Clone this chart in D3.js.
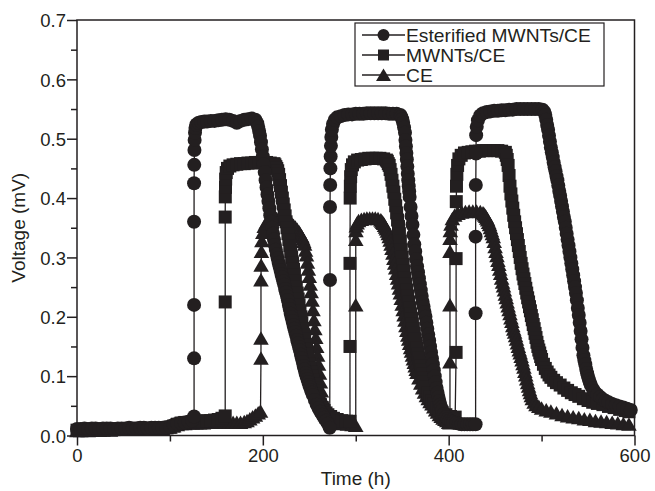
<!DOCTYPE html>
<html>
<head>
<meta charset="utf-8">
<script src="https://cdn.jsdelivr.net/npm/d3@7"></script>
<style>
  body { margin: 0; background: #fff; }
  svg { display: block; font-family: "Liberation Sans", Arial, sans-serif; }
  .frame { fill: none; stroke: #231f20; stroke-width: 1.5; }
  .axis path { display: none; }
  .axis line { stroke: #231f20; stroke-width: 1.5; }
  .axis text { fill: #231f20; font-size: 18.5px; }
  .series-line { fill: none; stroke: #231f20; stroke-width: 1.3; }
  .marker { fill: #231f20; }
  .title { fill: #231f20; font-size: 19px; }
  .legend-box { fill: #fff; stroke: #231f20; stroke-width: 1.2; }
  .legend text { fill: #231f20; font-size: 17.5px; }
</style>
</head>
<body>
<div id="chart"></div>
<script>
// [time (h), voltage (mV)]
const esterified = [
  [0,0.011],[4,0.011],[8,0.012],[12,0.011],[16,0.012],[20,0.012],[24,0.011],[28,0.012],[32,0.012],[36,0.012],
  [40,0.011],[44,0.012],[48,0.012],[52,0.012],[56,0.013],[60,0.012],[64,0.012],[68,0.013],[72,0.013],[76,0.012],
  [80,0.013],[84,0.013],[88,0.013],[92,0.013],[96,0.014],[100,0.015],[104,0.018],[108,0.02],[112,0.021],[116,0.022],
  [120,0.023],[124,0.025],
  [126,0.032],[126,0.13],[126,0.22],[126,0.36],[126,0.425],[126.2,0.456],[126.4,0.481],[126.6,0.498],[127,0.51],[127.5,0.518],
  [128.5,0.524],[131,0.527],[134,0.528],[137,0.529],[140,0.529],[144,0.53],[148,0.53],[152,0.531],[156,0.532],[160,0.533],
  [164,0.532],[168,0.53],[172,0.527],[176,0.53],[180,0.532],[184,0.533],[188,0.534],[192,0.532],
  [194,0.526],[195,0.52],[196,0.513],[197,0.505],[198,0.494],[199,0.482],[200,0.47],[201,0.457],[202,0.444],[203,0.43],
  [204,0.418],[205,0.406],[206,0.395],[207,0.383],[208,0.371],[209,0.36],[210,0.35],[211,0.34],[212,0.33],[213,0.321],
  [214,0.313],[215,0.305],[216,0.298],[217,0.291],[218,0.285],[219,0.279],[220,0.272],[221,0.266],[222,0.26],[223,0.254],
  [224,0.247],[225,0.241],[226,0.235],[227,0.228],[228,0.22],[229,0.213],[230,0.205],[231,0.199],[232,0.193],[233,0.186],
  [234,0.18],[235,0.174],[236,0.168],[237,0.161],[238,0.155],[239,0.149],[240,0.143],[241,0.136],[242,0.13],[243,0.124],
  [244,0.117],[245,0.111],[246,0.105],[247,0.1],[248,0.095],[249,0.09],[250,0.085],[251,0.081],[252,0.076],[253,0.072],
  [254,0.068],[256,0.06],[258,0.052],[260,0.046],[262,0.04],[264,0.035],[266,0.03],[268,0.025],[270,0.02],[272,0.013],
  [272.3,0.262],[272.3,0.385],[272.5,0.422],[272.7,0.45],[273,0.47],[273.3,0.488],[273.7,0.503],[274.3,0.515],[275.5,0.525],[277.5,0.532],
  [280,0.536],[284,0.538],[288,0.54],[292,0.541],[296,0.541],[300,0.542],[304,0.542],[308,0.542],[312,0.543],[316,0.543],
  [320,0.543],[324,0.543],[328,0.543],[332,0.543],[336,0.542],[340,0.542],[344,0.542],[348,0.54],
  [349,0.537],[350,0.533],[351,0.527],[352,0.519],[353,0.51],[353.5,0.498],[354,0.487],[354.5,0.476],[355,0.465],[355.5,0.453],
  [356,0.441],[356.5,0.43],[357,0.42],[357.5,0.411],[358,0.402],[359,0.385],[360,0.37],[361,0.355],[362,0.338],[363,0.322],
  [364,0.31],[365,0.297],[366,0.285],[367,0.275],[368,0.265],[369,0.255],[370,0.245],[371,0.235],[372,0.225],[373,0.217],
  [374,0.208],[375,0.2],[376,0.19],[377,0.18],[378,0.17],[379,0.16],[380,0.15],[381,0.14],[382,0.13],[383,0.12],
  [384,0.11],[385,0.1],[386,0.09],[387,0.08],[388,0.072],[389,0.065],[390,0.058],[391,0.052],[392,0.047],[393,0.042],
  [395,0.036],[397,0.031],[399,0.028],[401,0.025],[403,0.023],[405,0.022],[408,0.021],[411,0.02],[414,0.019],[417,0.019],
  [420,0.019],[423,0.019],[426,0.019],[429,0.019],
  [429,0.206],[429,0.335],[429.2,0.422],[429.4,0.475],[429.6,0.506],[430.2,0.52],[431.5,0.531],[434,0.539],[437,0.543],
  [441,0.545],[445,0.546],[449,0.547],[453,0.547],[457,0.548],[461,0.548],[465,0.549],[469,0.549],[473,0.55],[477,0.55],
  [481,0.55],[485,0.55],[489,0.55],[493,0.55],[497,0.55],[501,0.549],
  [503,0.545],[504,0.54],[505,0.532],[506,0.523],[507,0.515],[508,0.505],[509,0.495],[510,0.485],[511,0.477],[512,0.469],
  [513,0.46],[514,0.452],[515,0.445],[516,0.437],[517,0.43],[518,0.421],[519,0.412],[520,0.404],[521,0.395],[522,0.386],
  [523,0.377],[524,0.368],[525,0.36],[526,0.35],[527,0.34],[528,0.33],[529,0.32],[530,0.31],[531,0.3],[532,0.29],
  [533,0.28],[534,0.27],[535,0.26],[536,0.25],[537,0.24],[538,0.228],[539,0.215],[540,0.203],[541,0.19],[542,0.176],
  [543,0.162],[544,0.148],[545,0.135],[546,0.127],[547,0.12],[548,0.112],[549,0.105],[550,0.099],[551,0.094],[552,0.089],
  [553,0.085],[555,0.079],[557,0.074],[560,0.069],[563,0.065],[566,0.061],[569,0.058],[572,0.056],[576,0.053],[580,0.051],
  [584,0.049],[588,0.047],[592,0.045],[596,0.043]
];

const mwnts = [
  [0,0.009],[4,0.009],[8,0.01],[12,0.01],[16,0.009],[20,0.01],[24,0.01],[28,0.01],[32,0.011],[36,0.01],
  [40,0.01],[44,0.011],[48,0.011],[52,0.011],[56,0.011],[60,0.011],[64,0.012],[68,0.012],[72,0.012],[76,0.012],
  [80,0.012],[84,0.012],[88,0.013],[92,0.013],[96,0.013],[100,0.014],[104,0.016],[108,0.019],[112,0.021],[116,0.022],
  [120,0.022],[124,0.023],[128,0.023],[132,0.024],[136,0.024],[140,0.025],[144,0.025],[148,0.026],[152,0.027],[156,0.029],
  [159.5,0.033],[159.5,0.225],[159.5,0.368],[159.6,0.402],[159.8,0.418],[160,0.432],[160.6,0.443],[162,0.45],[164.5,0.454],
  [168,0.456],[172,0.457],[176,0.458],[180,0.458],[184,0.459],[188,0.459],[192,0.46],[196,0.46],[200,0.46],[204,0.46],
  [208,0.459],[212,0.458],
  [213,0.456],[214,0.453],[215,0.45],[216,0.446],[217,0.44],[218,0.431],[219,0.421],[220,0.41],[221,0.4],[222,0.39],
  [223,0.38],[224,0.37],[225,0.36],[226,0.35],[227,0.34],[228,0.33],[229,0.32],[230,0.31],[231,0.3],[232,0.29],
  [233,0.28],[234,0.27],[235,0.26],[236,0.25],[237,0.24],[238,0.23],[239,0.22],[240,0.21],[241,0.2],[242,0.19],
  [243,0.18],[244,0.17],[245,0.162],[246,0.153],[247,0.145],[248,0.137],[249,0.128],[250,0.12],[251,0.113],[252,0.107],
  [253,0.1],[254,0.093],[255,0.087],[256,0.08],[257,0.075],[258,0.07],[259,0.065],[260,0.06],[262,0.052],[264,0.047],
  [266,0.042],[268,0.038],[270,0.035],[273,0.032],[276,0.029],[280,0.027],[285,0.025],[290,0.024],[293.8,0.024],
  [293.8,0.15],[293.8,0.29],[294,0.4],[294.2,0.42],[294.5,0.436],[295.2,0.448],[296.5,0.456],[298.5,0.461],
  [302,0.464],[306,0.465],[310,0.466],[314,0.467],[318,0.467],[322,0.467],[326,0.467],[330,0.466],[333,0.464],
  [334,0.462],[335,0.458],[336,0.455],[337,0.448],[338,0.44],[339,0.43],[340,0.42],[341,0.41],[342,0.398],[343,0.387],
  [344,0.375],[345,0.363],[346,0.352],[347,0.34],[348,0.327],[349,0.313],[350,0.3],[351,0.288],[352,0.277],[353,0.265],
  [354,0.255],[355,0.245],[356,0.235],[357,0.225],[358,0.215],[359,0.205],[360,0.197],[361,0.188],[362,0.18],[363,0.172],
  [364,0.163],[365,0.155],[366,0.147],[367,0.138],[368,0.13],[369,0.123],[370,0.117],[371,0.11],[372,0.103],[373,0.097],
  [374,0.09],[376,0.081],[378,0.072],[380,0.065],[382,0.058],[384,0.053],[387,0.047],[390,0.043],[393,0.039],[397,0.035],
  [402,0.032],[407,0.031],
  [408,0.14],[408,0.298],[408.2,0.394],[408.4,0.42],[408.8,0.44],[409.6,0.455],[411,0.466],[413.5,0.472],
  [417,0.476],[421,0.477],[425,0.478],[429,0.479],[433,0.479],[437,0.48],[441,0.48],[445,0.48],[449,0.48],[453,0.48],
  [457,0.479],[461,0.477],
  [462,0.472],[463,0.465],[464,0.455],[465,0.438],[466,0.42],[467,0.407],[468,0.395],[469,0.383],[470,0.371],[471,0.36],
  [472,0.35],[473,0.34],[474,0.33],[475,0.32],[476,0.31],[477,0.3],[478,0.29],[479,0.281],[480,0.272],[481,0.264],
  [482,0.256],[483,0.248],[484,0.24],[485,0.232],[486,0.225],[487,0.217],[488,0.21],[489,0.202],[490,0.195],[491,0.187],
  [492,0.18],[493,0.172],[494,0.165],[495,0.157],[496,0.15],[497,0.144],[498,0.139],[499,0.133],[500,0.128],[502,0.12],
  [504,0.113],[506,0.107],[508,0.102],[510,0.098],[513,0.093],[516,0.089],[520,0.085],[524,0.08],[528,0.076],[532,0.072],
  [536,0.069],[540,0.066],[545,0.062],[550,0.059],[555,0.056],[560,0.054],[566,0.052],[572,0.049],[578,0.047],[584,0.044],
  [590,0.042],[594,0.04]
];

const ce = [
  [0,0.008],[4,0.008],[8,0.009],[12,0.008],[16,0.009],[20,0.009],[24,0.009],[28,0.009],[32,0.01],[36,0.009],
  [40,0.01],[44,0.01],[48,0.01],[52,0.01],[56,0.01],[60,0.011],[64,0.011],[68,0.011],[72,0.011],[76,0.011],
  [80,0.012],[84,0.012],[88,0.012],[92,0.012],[96,0.013],[100,0.014],[104,0.016],[108,0.018],[112,0.02],[116,0.02],
  [120,0.021],[124,0.021],[128,0.021],[132,0.021],[136,0.021],[140,0.022],[144,0.022],[148,0.022],[152,0.022],[156,0.022],
  [160,0.022],[164,0.022],[168,0.022],[172,0.022],[176,0.022],[180,0.023],[183,0.025],[186,0.028],[189,0.031],[192,0.034],
  [195,0.038],[197.5,0.041],
  [198,0.13],[198,0.164],[198,0.262],[198.2,0.287],[198.5,0.31],[199,0.328],[200,0.342],[201.5,0.352],
  [203.5,0.358],[206,0.361],[209,0.363],[212,0.364],[215,0.365],[218,0.365],[221,0.364],[224,0.364],[227,0.362],
  [229,0.36],[231,0.357],[233,0.354],[235,0.351],[237,0.347],[239,0.343],[240,0.34],[241,0.337],[242,0.335],[243,0.331],
  [244,0.327],[245,0.322],[246,0.312],[247,0.304],[248,0.292],[249,0.28],[250,0.268],[251,0.255],[252,0.242],[253,0.228],
  [254,0.212],[255,0.195],[256,0.18],[257,0.165],[258,0.15],[259,0.135],[260,0.12],[261,0.105],[262,0.09],[263,0.075],
  [264,0.062],[265,0.05],[266,0.042],[267.5,0.035],[269,0.031],[271,0.028],[274,0.026],[277,0.024],[281,0.022],[286,0.02],
  [291,0.019],[296,0.018],[300,0.017],
  [300,0.22],[300,0.33],[300.2,0.345],[300.6,0.353],[301.5,0.358],[303,0.362],
  [306,0.364],[309,0.365],[312,0.366],[315,0.366],[318,0.366],[321,0.366],[324,0.365],[327,0.363],
  [328,0.361],[329,0.359],[330,0.357],[331,0.354],[332,0.351],[333,0.348],[334,0.344],[335,0.34],[336,0.335],[337,0.329],
  [338,0.322],[339,0.315],[340,0.307],[341,0.298],[342,0.29],[343,0.282],[344,0.273],[345,0.265],[346,0.257],[347,0.248],
  [348,0.24],[349,0.231],[350,0.221],[351,0.212],[352,0.203],[353,0.194],[354,0.185],[355,0.177],[356,0.169],[357,0.162],
  [358,0.155],[359,0.148],[360,0.142],[361,0.135],[362,0.129],[363,0.123],[364,0.117],[365,0.111],[366,0.106],[368,0.097],
  [370,0.088],[372,0.08],[374,0.073],[376,0.067],[378,0.062],[380,0.057],[382,0.053],[384,0.048],[386,0.043],[388,0.039],
  [390,0.035],[392,0.032],[394,0.029],[396,0.027],[398,0.025],[400,0.022],[401.4,0.021],
  [401.4,0.124],[401.4,0.22],[401.4,0.31],[401.5,0.332],[401.8,0.345],[402.5,0.356],[404,0.365],[406.5,0.371],
  [410,0.374],[414,0.376],[418,0.377],[422,0.378],[426,0.378],[430,0.378],[434,0.377],[437,0.375],
  [438,0.373],[439,0.371],[440,0.369],[441,0.366],[442,0.363],[443,0.359],[444,0.355],[445,0.35],[446,0.345],[447,0.34],
  [448,0.335],[449,0.327],[450,0.318],[451,0.31],[452,0.303],[453,0.295],[454,0.288],[455,0.28],[456,0.273],[457,0.265],
  [458,0.258],[459,0.252],[460,0.245],[461,0.238],[462,0.232],[463,0.225],[464,0.218],[465,0.212],[466,0.205],[467,0.198],
  [468,0.192],[469,0.185],[470,0.179],[471,0.174],[472,0.168],[473,0.162],[474,0.156],[475,0.15],[476,0.144],[477,0.139],
  [478,0.133],[479,0.127],[480,0.121],[481,0.115],[482,0.108],[483,0.102],[484,0.095],[485,0.089],[486,0.083],[487,0.077],
  [488,0.072],[489,0.067],[490,0.062],[492,0.056],[494,0.052],[497,0.049],[500,0.046],[505,0.043],[510,0.041],[516,0.038],
  [522,0.035],[528,0.033],[534,0.031],[540,0.03],[546,0.028],[552,0.027],[558,0.025],[564,0.024],[570,0.023],[576,0.022],
  [582,0.021],[588,0.02],[594,0.019]
];

const seriesNames = ['Esterified MWNTs/CE', 'MWNTs/CE', 'CE'];
const xTicks = [0, 200, 400, 600];
const xMinorTicks = [100, 300, 500];
const yTicks = [0, 0.1, 0.2, 0.3, 0.4, 0.5, 0.6, 0.7];
const yMinorTicks = [0.05, 0.15, 0.25, 0.35, 0.45, 0.55, 0.65];

const width = 655, height = 491;
const margin = {top: 20, right: 20.5, bottom: 55.5, left: 77};

const svg = d3.select('#chart').append('svg')
  .attr('width', width)
  .attr('height', height);

const x = d3.scaleLinear().domain([0, 600]).range([margin.left, width - margin.right]);
const y = d3.scaleLinear().domain([0, 0.7]).range([height - margin.bottom, margin.top]);

// marker shapes, one per series
const shapes = {
  circle: 'M7,0A7,7,0,1,1,-7,0A7,7,0,1,1,7,0Z',
  square: 'M-6.5,-6.5H6.5V6.5H-6.5Z',
  triangle: 'M0,-7L7.8,6.5H-7.8Z'
};
const legendShapes = {
  circle: 'M6,0A6,6,0,1,1,-6,0A6,6,0,1,1,6,0Z',
  square: 'M-5.5,-5.5H5.5V5.5H-5.5Z',
  triangle: 'M0,-6.5L7.5,6H-7.5Z'
};

const series = [
  {name: seriesNames[0], data: esterified, shape: 'circle'},
  {name: seriesNames[1], data: mwnts, shape: 'square'},
  {name: seriesNames[2], data: ce, shape: 'triangle'}
];

const line = d3.line().x(d => x(d[0])).y(d => y(d[1]));

const plot = svg.append('g').attr('class', 'plot');

series.slice().reverse().forEach(s => {
  const g = plot.append('g').attr('class', 'series');
  g.append('path')
    .attr('class', 'series-line')
    .attr('d', line(s.data));
  g.selectAll('path.marker')
    .data(s.data)
    .enter().append('path')
    .attr('class', 'marker')
    .attr('transform', d => `translate(${x(d[0])},${y(d[1])})`)
    .attr('d', shapes[s.shape]);
});

// axes: major ticks with labels, minor ticks without
svg.append('g')
  .attr('class', 'axis x-axis')
  .attr('transform', `translate(0,${y(0)})`)
  .call(d3.axisBottom(x).tickValues(xTicks).tickSize(10).tickPadding(4).tickFormat(d3.format('d')));

svg.append('g')
  .attr('class', 'axis x-axis minor')
  .attr('transform', `translate(0,${y(0)})`)
  .call(d3.axisBottom(x).tickValues(xMinorTicks).tickSize(6).tickFormat(''));

svg.append('g')
  .attr('class', 'axis y-axis')
  .attr('transform', `translate(${x(0)},0)`)
  .call(d3.axisLeft(y).tickValues(yTicks).tickSize(10).tickPadding(1).tickFormat(d3.format('.1f')));

svg.append('g')
  .attr('class', 'axis y-axis minor')
  .attr('transform', `translate(${x(0)},0)`)
  .call(d3.axisLeft(y).tickValues(yMinorTicks).tickSize(6).tickFormat(''));

svg.selectAll('.x-axis text').attr('dy', null).attr('y', 26);
svg.selectAll('.y-axis text').attr('dy', '0.36em');

svg.append('rect')
  .attr('class', 'frame')
  .attr('x', x(0))
  .attr('y', y(0.7))
  .attr('width', x(600) - x(0))
  .attr('height', y(0) - y(0.7));

// axis titles
svg.append('text')
  .attr('class', 'title')
  .attr('x', (x(0) + x(600)) / 2)
  .attr('y', 485)
  .attr('text-anchor', 'middle')
  .text('Time (h)');

svg.append('text')
  .attr('class', 'title')
  .attr('transform', `translate(25,${(y(0) + y(0.7)) / 2}) rotate(-90)`)
  .attr('text-anchor', 'middle')
  .text('Voltage (mV)');

// legend
const legend = svg.append('g').attr('class', 'legend');
legend.append('rect')
  .attr('class', 'legend-box')
  .attr('x', 355)
  .attr('y', 23)
  .attr('width', 249)
  .attr('height', 63);

const item = legend.selectAll('g.item')
  .data(series)
  .enter().append('g')
  .attr('class', 'item')
  .attr('transform', (d, i) => `translate(362,${35 + i * 20})`);

item.append('line')
  .attr('x1', 0).attr('x2', 43)
  .attr('stroke', '#231f20')
  .attr('stroke-width', 1.3);

item.append('path')
  .attr('class', 'marker')
  .attr('transform', 'translate(21.5,0)')
  .attr('d', d => legendShapes[d.shape]);

item.append('text')
  .attr('transform', 'translate(44,6.5) scale(1.1,1)')
  .text(d => d.name);
</script>
</body>
</html>
